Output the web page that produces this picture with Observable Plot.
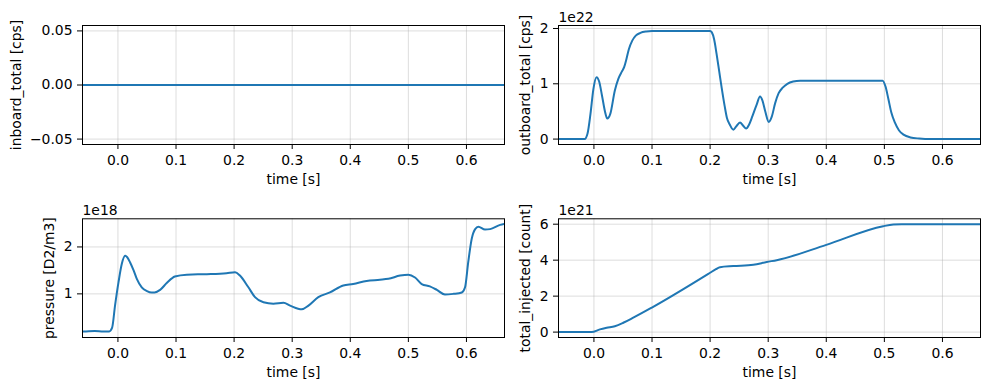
<!DOCTYPE html>
<html><head><meta charset="utf-8">
<script src="https://cdn.jsdelivr.net/npm/d3@7"></script>
<script src="https://cdn.jsdelivr.net/npm/@observablehq/plot@0.6"></script>
<style>
body{margin:0;background:#fff;}
#fig{position:relative;width:989px;height:390px;background:#fff;font-family:"DejaVu Sans",sans-serif;overflow:hidden;}
#fig svg{position:absolute;overflow:visible;}
</style></head><body><div id="fig"></div>
<script>
// ---- data ----
const xTicks = [0, 0.1, 0.2, 0.3, 0.4, 0.5, 0.6];
const xDomain = [-0.061, 0.6655];
const xLabel = "time [s]";

const inboardT = [-0.07, 0.67];
const inboardV = [0, 0];
const inboardTicks = [-0.05, 0, 0.05];

// outboard_total in units of 1e22
const outboardT = [-0.07,-0.016,-0.011,-0.006,-0.001,0.0045,0.009,0.014,0.019,0.023,0.028,0.036,0.042,0.048,0.052,0.056,0.060,0.066,0.072,0.080,0.090,0.100,0.200,0.203,0.207,0.211,0.216,0.220,0.225,0.229,0.234,0.240,0.245,0.2515,0.257,0.262,0.267,0.273,0.280,0.286,0.290,0.295,0.301,0.306,0.312,0.318,0.325,0.333,0.343,0.355,0.497,0.502,0.507,0.512,0.518,0.525,0.533,0.545,0.560,0.580,0.67];
const outboardV = [0,0,0.1,0.45,0.9,1.12,1.04,0.78,0.5,0.37,0.45,0.88,1.09,1.22,1.3,1.45,1.62,1.78,1.87,1.92,1.945,1.953,1.955,1.93,1.8,1.55,1.2,0.92,0.6,0.38,0.26,0.17,0.23,0.3,0.24,0.19,0.26,0.42,0.62,0.77,0.7,0.5,0.31,0.4,0.65,0.83,0.93,1.0,1.04,1.055,1.056,0.95,0.72,0.48,0.3,0.16,0.08,0.03,0.01,0,0];
const outboardTicks = [0, 1, 2];

// pressure in units of 1e18
const pressureT = [-0.07,-0.055,-0.04,-0.025,-0.015,-0.01,-0.005,0.001,0.0067,0.0124,0.016,0.021,0.027,0.0325,0.041,0.05,0.058,0.063,0.0726,0.084,0.098,0.1186,0.153,0.187,0.2017,0.21,0.2246,0.236,0.2505,0.2676,0.285,0.2964,0.3165,0.328,0.345,0.365,0.388,0.405,0.428,0.451,0.4656,0.4857,0.5,0.5115,0.523,0.537,0.549,0.563,0.5775,0.592,0.5976,0.603,0.609,0.615,0.6205,0.632,0.6406,0.658,0.67];
const pressureV = [0.19,0.2,0.21,0.2,0.2,0.28,0.75,1.25,1.64,1.81,1.78,1.67,1.5,1.32,1.14,1.06,1.03,1.03,1.085,1.23,1.37,1.41,1.42,1.44,1.46,1.39,1.14,0.93,0.82,0.79,0.81,0.75,0.67,0.75,0.93,1.03,1.18,1.21,1.276,1.3,1.32,1.39,1.41,1.35,1.21,1.16,1.085,0.985,1.0,1.03,1.14,1.67,2.17,2.38,2.43,2.37,2.38,2.47,2.5];
const pressureTicks = [1, 2];

// total_injected in units of 1e21
const injectedT = [-0.07,-0.004,0.0103,0.0219,0.036,0.0505,0.0677,0.099,0.2,0.21,0.217,0.24,0.2744,0.2975,0.3147,0.4,0.498,0.5155,0.53,0.67];
const injectedV = [0,0,0.15,0.24,0.33,0.52,0.8,1.35,3.3,3.5,3.61,3.67,3.74,3.9,4.0,4.85,5.89,5.98,6.0,6.0];
const injectedTicks = [0, 2, 4, 6];

// ---- drawing ----
const fig = document.getElementById("fig");
const fmt1 = d3.format(".1f");

function panel(o) {
  const data = o.t.map((d, i) => ({t: d, v: o.v[i]}));
  const marks = [
    Plot.gridX(xTicks, {stroke: "#b0b0b0", strokeOpacity: 0.55, strokeWidth: 0.8}),
    Plot.gridY(o.yTicks, {stroke: "#b0b0b0", strokeOpacity: 0.55, strokeWidth: 0.8}),
    Plot.line(data, {x: "t", y: "v", stroke: "#1f77b4", strokeWidth: 2, curve: "monotone-x", clip: true}),
    Plot.frame({stroke: "black", strokeWidth: 1}),
    Plot.axisX(xTicks, {tickSize: 5, tickPadding: 6, tickFormat: fmt1, label: null, fill: "black", stroke: "black"}),
    Plot.axisY(o.yTicks, {tickSize: 5, tickPadding: 5, tickFormat: o.yFmt, label: null, fill: "black", stroke: "black"}),
    Plot.text([xLabel], {frameAnchor: "bottom", dy: 35.5, text: d => d, textAnchor: "middle", lineAnchor: "middle", fill: "black"}),
    Plot.text([o.ylabel], {frameAnchor: "left", dx: o.labelDx, rotate: -90, text: d => d, textAnchor: "middle", lineAnchor: "middle", fill: "black"})
  ];
  if (o.offset) marks.push(Plot.text([o.offset], {frameAnchor: "top-left", dy: -8.3, text: d => d, textAnchor: "start", lineAnchor: "middle", fill: "black"}));
  const svg = Plot.plot({
    width: o.width, height: o.height,
    marginLeft: o.mL, marginRight: o.mR, marginTop: o.mT, marginBottom: o.mB,
    style: {fontFamily: "DejaVu Sans", fontSize: "13.9px", background: "transparent", color: "black", overflow: "visible"},
    x: {domain: xDomain},
    y: {domain: o.yDomain},
    marks
  });
  svg.style.left = o.left + "px";
  svg.style.top = o.top + "px";
  fig.appendChild(svg);
}

const L = {left: 0, width: 510, mL: 82, mR: 6};
const R = {left: 500, width: 489, mL: 58, mR: 9};
const T = {top: 0, height: 195, mT: 25, mB: 51};
const B = {top: 195, height: 195, mT: 23.3, mB: 53};

panel({...L, ...T, t: inboardT, v: inboardV, yDomain: [-0.055, 0.055], yTicks: inboardTicks, yFmt: d3.format(".2f"), ylabel: "inboard_total [cps]", labelDx: -65.5});
panel({...R, ...T, t: outboardT, v: outboardV, yDomain: [-0.098, 2.054], yTicks: outboardTicks, yFmt: d3.format("d"), ylabel: "outboard_total [cps]", labelDx: -33, offset: "1e22"});
panel({...L, ...B, t: pressureT, v: pressureV, yDomain: [0.07, 2.6], yTicks: pressureTicks, yFmt: d3.format("d"), ylabel: "pressure [D2/m3]", labelDx: -32.5, offset: "1e18"});
panel({...R, ...B, t: injectedT, v: injectedV, yDomain: [-0.3, 6.3], yTicks: injectedTicks, yFmt: d3.format("d"), ylabel: "total_injected [count]", labelDx: -33, offset: "1e21"});
</script></body></html>
